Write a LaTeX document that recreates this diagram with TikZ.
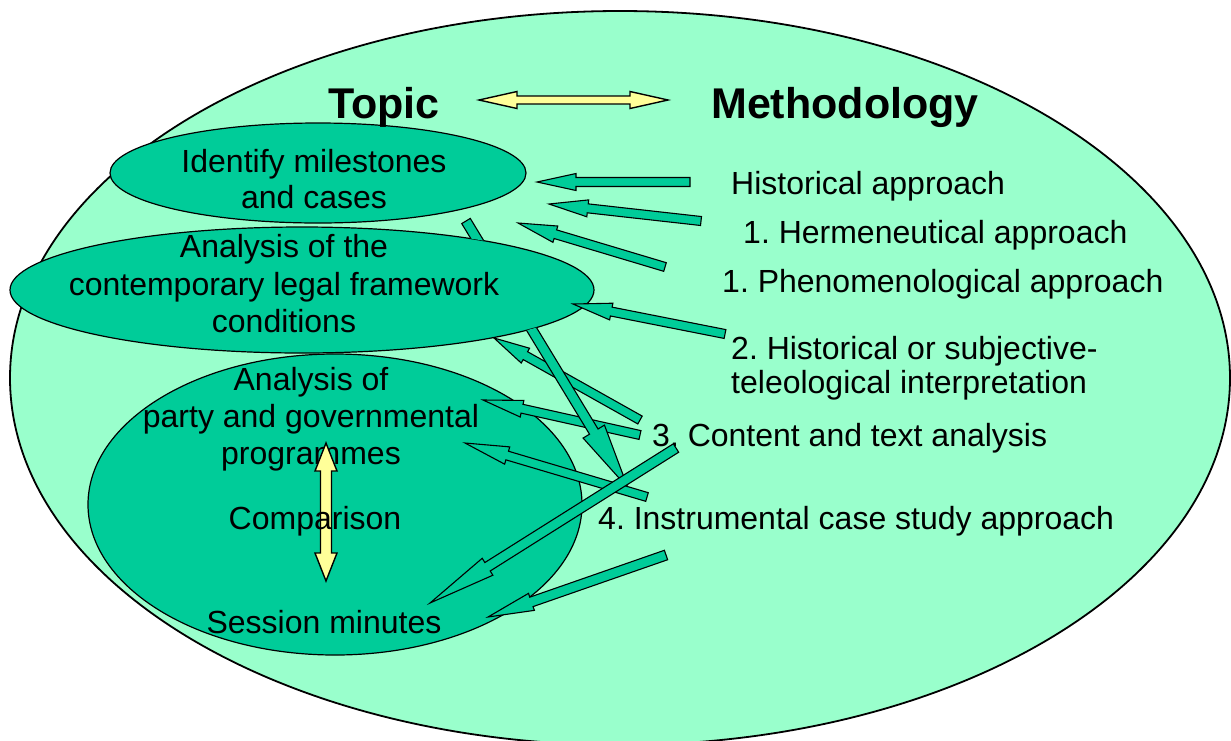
\documentclass[tikz,border=0pt]{standalone}
\usepackage{fontspec}
\setmainfont{Liberation Sans}
\usetikzlibrary{shapes.geometric,calc}
\definecolor{outerg}{HTML}{99FFCC}
\definecolor{innerg}{HTML}{00CC99}
\definecolor{yel}{HTML}{FFFF99}
\frenchspacing
% block arrow: tail, tip, shaft half width, head half width, head length, style
\newcommand\blockarrow[6]{%
  \path ($(#2)!#5!(#1)$) coordinate (bahead);
  \draw[#6] ($(#1)!#3!90:(#2)$) -- ($(bahead)!#3!90:(#2)$) -- ($(bahead)!#4!90:(#2)$) -- (#2)
    -- ($(bahead)!#4!-90:(#2)$) -- ($(bahead)!#3!-90:(#2)$) -- ($(#1)!#3!-90:(#2)$) -- cycle;
}
% double block arrow: end A, end B, shaft half width, head half width, head length, style
\newcommand\dblarrow[6]{%
  \path ($(#1)!#5!(#2)$) coordinate (dahA) ($(#2)!#5!(#1)$) coordinate (dahB);
  \draw[#6] (#1) -- ($(dahA)!#4!90:(#2)$) -- ($(dahA)!#3!90:(#2)$) -- ($(dahB)!#3!-90:(#1)$)
    -- ($(dahB)!#4!-90:(#1)$) -- (#2) -- ($(dahB)!#4!90:(#1)$) -- ($(dahB)!#3!90:(#1)$)
    -- ($(dahA)!#3!-90:(#2)$) -- ($(dahA)!#4!-90:(#2)$) -- cycle;
}
\begin{document}
\begin{tikzpicture}[x=1pt,y=-1pt,
  outerell/.style={ellipse, draw=black, line width=1.8pt, fill=outerg, inner sep=0pt},
  innerell/.style={ellipse, draw=black, line width=1.2pt, fill=innerg, inner sep=0pt},
  txt/.style={font=\fontsize{32}{35}\selectfont\frenchspacing, inner sep=0pt, anchor=base},
  rtxt/.style={txt, anchor=base west},
  ttl/.style={font=\fontsize{43}{48}\bfseries\selectfont, inner sep=0pt, anchor=base},
  barrow/.style={draw=black, fill=innerg, line width=1.1pt, line join=miter},
  yarrow/.style={draw=black, fill=yel, line width=1.4pt, line join=miter}]
\useasboundingbox (0,0) rectangle (1231,740);

% ellipses
\node[outerell, minimum width=1220pt, minimum height=734pt] (outer) at (620,378) {};
\node[innerell, minimum width=416pt, minimum height=100pt] (milestones) at (318,173) {};
\node[innerell, minimum width=584pt, minimum height=126pt] (legal) at (302,290) {};
\node[innerell, minimum width=494pt, minimum height=301pt] (programmes) at (335,504.5) {};

% titles
\node[ttl] (topic) at (384,118) {Topic};
\node[ttl] (method) at (845,118) {Methodology};

% left texts
\node[txt] (l1a) at (314,172) {Identify milestones};
\node[txt] (l1b) at (314,208) {and cases};
\node[txt] (l2a) at (284,257) {Analysis of the};
\node[txt] (l2b) at (284,295) {contemporary legal framework};
\node[txt] (l2c) at (284,332) {conditions};
\node[txt] (l3a) at (311,390) {Analysis of};
\node[txt] (l3b) at (311,427) {party and governmental};
\node[txt] (l3c) at (311,464) {programmes};
\node[txt] (sess) at (324,633) {Session minutes};

% right texts
\node[rtxt] (m1) at (731,194) {Historical approach};
\node[rtxt] (m2) at (743,243) {1. Hermeneutical approach};
\node[rtxt] (m3) at (722,292) {1. Phenomenological approach};
\node[rtxt] (m4a) at (731,359) {2. Historical or subjective-};
\node[rtxt] (m4b) at (731,393) {teleological interpretation};
\node[rtxt] (m5) at (652,446) {3. Content and text analysis};
\node[rtxt] (m6) at (598,529) {4. Instrumental case study approach};

% arrow end points
\coordinate (a1t) at (690,182);  \coordinate (a1h) at (537,182);
\coordinate (a2t) at (701,221);  \coordinate (a2h) at (549,204);
\coordinate (a3t) at (665,267);  \coordinate (a3h) at (518,223);
\coordinate (a4t) at (725,334);  \coordinate (a4h) at (573,304);
\coordinate (a5t) at (640,420);  \coordinate (a5h) at (494,338);
\coordinate (a6t) at (640,435);  \coordinate (a6h) at (483,400);
\coordinate (a7t) at (647,497);  \coordinate (a7h) at (465,443);
\coordinate (a8t) at (466,221);  \coordinate (a8h) at (628,488);
\coordinate (a9t) at (676,448);  \coordinate (a9h) at (430,603);
\coordinate (a10t) at (666,555); \coordinate (a10h) at (488,617);

\blockarrow{a1t}{a1h}{4.5pt}{8.5pt}{39pt}{barrow}
\blockarrow{a2t}{a2h}{4.5pt}{8.5pt}{39pt}{barrow}
\blockarrow{a3t}{a3h}{4.5pt}{8.5pt}{39pt}{barrow}
\blockarrow{a4t}{a4h}{4.5pt}{8.5pt}{39pt}{barrow}
\blockarrow{a5t}{a5h}{4.5pt}{8.5pt}{36pt}{barrow}
\blockarrow{a6t}{a6h}{4.5pt}{8.5pt}{40pt}{barrow}
\begin{scope}[even odd rule]
  \clip (-20,-20) rectangle (1260,770) (302,290) ellipse (292 and 63);
  \blockarrow{a8t}{a8h}{5pt}{12.5pt}{66pt}{barrow}
\end{scope}
\blockarrow{a7t}{a7h}{4.5pt}{9pt}{44pt}{barrow}
\blockarrow{a9t}{a9h}{5pt}{10pt}{68pt}{barrow}
\blockarrow{a10t}{a10h}{5pt}{9pt}{46pt}{barrow}

% yellow double arrows
\coordinate (ytl) at (479,100); \coordinate (ytr) at (668,100);
\dblarrow{ytl}{ytr}{4pt}{8.5pt}{38pt}{yarrow}
\coordinate (yvt) at (326,443); \coordinate (yvb) at (326,581);
\dblarrow{yvt}{yvb}{5.5pt}{11pt}{28pt}{yarrow}

\node[txt] (comp) at (315,529) {Comparison};
\end{tikzpicture}
\end{document}
